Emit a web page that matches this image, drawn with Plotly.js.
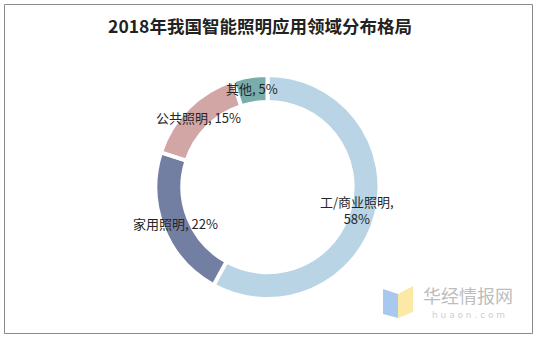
<!DOCTYPE html>
<html>
<head>
<meta charset="utf-8">
<script src="https://cdn.plot.ly/plotly-3.0.1.min.js"></script>
<style>html,body{margin:0;padding:0;background:#fff;}#chart{width:539px;height:341px;}</style>
</head>
<body>
<div id="chart"></div>
<script>
const categories = ["工/商业照明", "家用照明", "公共照明", "其他"];
const values = [58, 22, 15, 5];
const labelTexts = ["工/商业照明,<br>58%", "家用照明, 22%", "公共照明, 15%", "其他, 5%"];
const colors = ["#b8d4e5", "#737ea3", "#d3a6a6", "#78adac"];
const titleText = "2018年我国智能照明应用领域分布格局";

const W = 539, H = 341;
const cx = 267.5, cy = 187, R = 112;
const labelR = [92, 99, 98, 100];

const total = values.reduce((a, b) => a + b, 0);
const annotations = [];
let cum = 0;
values.forEach((v, i) => {
  const mid = (cum + v / 2) / total * 2 * Math.PI;
  cum += v;
  const px = cx + labelR[i] * Math.sin(mid);
  const py = cy - labelR[i] * Math.cos(mid);
  annotations.push({
    text: labelTexts[i], x: px / W, y: 1 - py / H, xref: "paper", yref: "paper",
    showarrow: false, xanchor: "center", yanchor: "middle", align: "center",
    font: {family: "Noto Sans CJK SC, sans-serif", size: 13, color: "#262626"}
  });
});

annotations.push({
  text: "华经情报网", x: 468 / W, y: 1 - 295 / H, xref: "paper", yref: "paper",
  showarrow: false, xanchor: "center", yanchor: "middle",
  font: {family: "Noto Sans CJK SC, sans-serif", size: 18, color: "#bdbdbd"}
});
annotations.push({
  text: "h u a o n . c o m", x: 468 / W, y: 1 - 315 / H, xref: "paper", yref: "paper",
  showarrow: false, xanchor: "center", yanchor: "middle",
  font: {family: "DejaVu Sans, sans-serif", size: 9, color: "#cfcfcf"}
});

const px2 = (x) => x / W, py2 = (y) => 1 - y / H;
const shapes = [
  {type: "rect", xref: "paper", yref: "paper", x0: px2(4.5), x1: px2(532.5), y0: py2(4.5), y1: py2(333.5),
   line: {color: "#8a8a8a", width: 1}, fillcolor: "rgba(0,0,0,0)"},
  {type: "path", xref: "paper", yref: "paper",
   path: `M ${px2(383)},${py2(289)} L ${px2(398)},${py2(294)} L ${px2(398)},${py2(318)} L ${px2(383)},${py2(314)} Z`,
   fillcolor: "#a9c8ef", line: {width: 0}},
  {type: "path", xref: "paper", yref: "paper",
   path: `M ${px2(398)},${py2(294)} L ${px2(413)},${py2(286)} L ${px2(413)},${py2(312)} L ${px2(398)},${py2(318)} Z`,
   fillcolor: "#fbe9a6", line: {width: 0}}
];

const data = [{
  type: "pie",
  labels: categories,
  values: values,
  hole: 0.76,
  sort: false,
  direction: "clockwise",
  rotation: 0,
  textinfo: "none",
  hoverinfo: "label+percent",
  marker: {colors: colors, line: {color: "#ffffff", width: 4}},
  domain: {x: [(cx - R) / W, (cx + R) / W], y: [1 - (cy + R) / H, 1 - (cy - R) / H]},
  showlegend: false
}];

const layout = {
  width: W, height: H,
  margin: {l: 0, r: 0, t: 0, b: 0},
  paper_bgcolor: "#ffffff",
  title: {
    text: "<b>" + titleText + "</b>",
    x: 260 / W, xanchor: "center", y: 1 - 27 / H, yanchor: "middle",
    font: {family: "Noto Sans CJK SC, serif", size: 17.5, color: "#222"}
  },
  annotations: annotations,
  shapes: shapes,
  showlegend: false
};

Plotly.newPlot("chart", data, layout, {displayModeBar: false, staticPlot: true});
</script>
</body>
</html>
